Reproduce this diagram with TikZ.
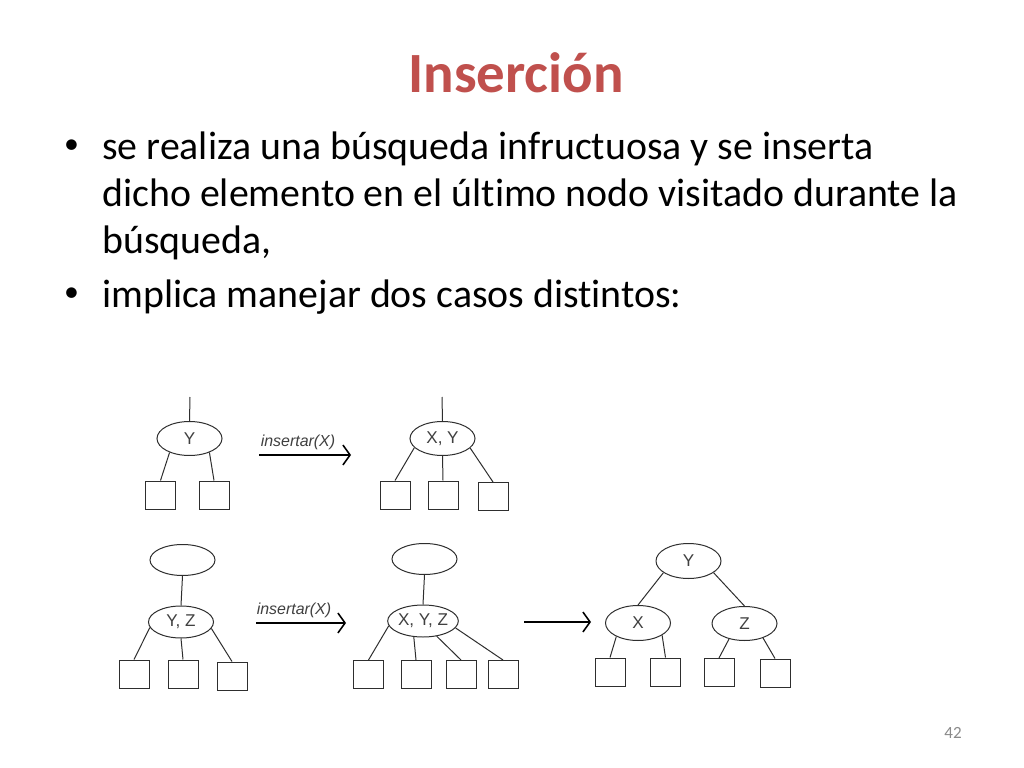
\documentclass[tikz,border=0pt]{standalone}
\usepackage{fontspec}
\setmainfont{Carlito}[Ligatures=NoCommon]
\newfontfamily\dfont{Liberation Sans}
\usetikzlibrary{arrows.meta,shapes.geometric,calc}
\definecolor{titlered}{HTML}{C0504D}
\definecolor{linegray}{HTML}{2E2E2E}
\definecolor{txtgray}{HTML}{404040}
\definecolor{pagegray}{HTML}{8A8A8A}
\def\px{0.703125pt}
\begin{document}
\begin{tikzpicture}[x=\px,y=-\px,
  oval/.style={ellipse,draw=linegray,line width=0.7pt,inner sep=0pt,
    minimum width=65*\px,minimum height=34*\px,text=txtgray,
    font=\dfont\fontsize{12}{14}\selectfont},
  leaf/.style={rectangle,draw=linegray,line width=0.7pt,inner sep=0pt,
    minimum width=30*\px,minimum height=28*\px},
  tline/.style={draw=linegray,line width=0.7pt},
  bigarrow/.style={draw=black,line width=1.3pt,-{Straight Barb[length=5pt,width=14pt,line width=1.1pt]}},
  arrlabel/.style={text=txtgray,font=\dfont\itshape\fontsize{11.2}{13}\selectfont,inner sep=0pt},
  bodytext/.style={anchor=base west,inner sep=0pt,font=\fontsize{28}{34}\selectfont},
  bullet/.style={anchor=center,inner sep=0pt,font=\fontsize{21}{25}\selectfont}
]
\useasboundingbox[fill=white] (0,0) rectangle (1024,768);

% title
\node[anchor=base,inner sep=0pt,text=titlered,font=\bfseries\fontsize{40}{48}\selectfont] (title) at (516,93) {Inserción};

% bullets
\node[bullet] (b1) at (71.5,147) {•};
\node[bodytext] (l1) at (102,160) {se realiza una búsqueda infructuosa y se inserta};
\node[bodytext] (l2) at (102,207) {dicho elemento en el último nodo visitado durante la};
\node[bodytext] (l3) at (102,254) {búsqueda,};
\node[bullet] (b2) at (71.5,295) {•};
\node[bodytext] (l4) at (102,308) {implica manejar dos casos distintos:};

% page number
\node[anchor=base,inner sep=0pt,text=pagegray,font=\fontsize{12}{14}\selectfont] (pg) at (953,738) {42};

% ---------- case 1 ----------
\coordinate (tl0) at (190,397);
\node[oval] (tlY) at (189.5,438.5) {Y};
\node[leaf] (tls1) at (160.5,495) {};
\node[leaf] (tls2) at (214,495) {};
\draw[tline] (tl0) -- (tlY.north);
\draw[tline] (tlY.-145) -- (tls1.north);
\draw[tline] (tlY.-35) -- (tls2.north);

\coordinate (a1s) at (259,455);
\coordinate (a1e) at (351,455);
\draw[bigarrow] (a1s) -- (a1e);
\node[arrlabel] (a1l) at (298,442) {insertar(X)};

\coordinate (tr0) at (442,397);
\node[oval] (trXY) at (442.5,438.5) {X, Y};
\node[leaf] (trs1) at (395,495) {};
\node[leaf] (trs2) at (443,495) {};
\node[leaf] (trs3) at (493,496.5) {};
\draw[tline] (tr0) -- (trXY.north);
\draw[tline] (trXY.-162) -- (trs1.north);
\draw[tline] (trXY.south) -- (trs2.north);
\draw[tline] (trXY.-19) -- (trs3.north);

% ---------- case 2 ----------
\node[oval,minimum height=31*\px] (blTop) at (182.5,560) {};
\node[oval,minimum height=32*\px] (blYZ) at (181,622) {Y, Z};
\node[leaf] (bls1) at (134,674) {};
\node[leaf] (bls2) at (183,674) {};
\node[leaf] (bls3) at (232,676) {};
\draw[tline] (blTop.south) -- (blYZ.north);
\draw[tline] (blYZ.-170) -- (bls1.north);
\draw[tline] (blYZ.south) -- (bls2.north);
\draw[tline] (blYZ.-12) -- (bls3.north);

\coordinate (a2s) at (256,623);
\coordinate (a2e) at (346,623);
\draw[bigarrow] (a2s) -- (a2e);
\node[arrlabel] (a2l) at (294,610) {insertar(X)};

\node[oval,minimum height=31*\px] (bmTop) at (424.5,559) {};
\node[oval,minimum width=66*\px,minimum height=32*\px] (bmXYZ) at (423,621) {X, Y, Z};
\node[leaf] (bms1) at (368.5,674.5) {};
\node[leaf] (bms2) at (416,674.5) {};
\node[leaf] (bms3) at (461,674.5) {};
\node[leaf] (bms4) at (503,674.5) {};
\draw[tline] (bmTop.south) -- (bmXYZ.north);
\draw[tline] (bmXYZ.-172) -- (bms1.north);
\draw[tline] (bmXYZ.-120) -- (bms2.north);
\draw[tline] (bmXYZ.-48) -- (bms3.north);
\draw[tline] (bmXYZ.-12) -- (bms4.north);

\coordinate (a3s) at (524,622);
\coordinate (a3e) at (591,622);
\draw[bigarrow,line width=0.9pt] (a3s) -- (a3e);

\node[oval,minimum height=35*\px] (rY) at (688.5,561) {Y};
\node[oval,minimum height=35*\px] (rX) at (638,623) {X};
\node[oval,minimum height=34*\px] (rZ) at (744.5,623.5) {Z};
\node[leaf] (rs1) at (610,672) {};
\node[leaf] (rs2) at (665.5,672) {};
\node[leaf] (rs3) at (719,672.5) {};
\node[leaf] (rs4) at (775,673) {};
\draw[tline] (rY.-155) -- (rX.north);
\draw[tline] (rY.-25) -- (rZ.north);
\draw[tline] (rX.-148) -- (rs1.north);
\draw[tline] (rX.-27) -- (rs2.north);
\draw[tline] (rZ.-135) -- (rs3.north);
\draw[tline] (rZ.-38) -- (rs4.north);
\end{tikzpicture}
\end{document}
